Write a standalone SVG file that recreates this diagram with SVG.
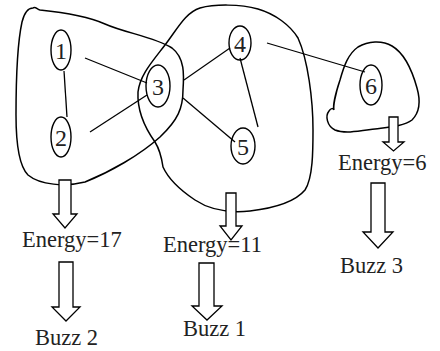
<svg xmlns="http://www.w3.org/2000/svg" width="440" height="351" viewBox="0 0 440 351">
<style>
.blob{fill:none;stroke:#000;stroke-width:1.5;stroke-linejoin:round}
.node ellipse{fill:none;stroke:#000;stroke-width:1.4}
.node text{font-family:'Liberation Serif','DejaVu Serif',serif;font-size:24px;text-anchor:middle;fill:#222}
.edge{stroke:#000;stroke-width:1.3;fill:none}
.arrow{fill:#fff;stroke:#000;stroke-width:1.3;stroke-linejoin:miter}
.lbl{font-family:'Liberation Serif','DejaVu Serif',serif;font-size:22.5px;fill:#222}
</style>
<rect width="440" height="351" fill="#fff"/>
<g id="clusters">
<path class="blob" d="M33,8 C35,6 37,9 40,10 C60,12 85,15 105,24 C125,33 155,37 172,48 C185,58 184,75 183,90 C183,108 178,120 160,137 C140,155 110,172 85,182 C65,187 40,185 28,175 C18,165 16,140 16,115 C16,85 17,45 22,22 C24,14 28,8 33,8 Z"/>
<path class="blob" d="M163,167 C168,178 180,190 195,200 C210,210 230,213 250,211 C275,208 295,202 305,190 C313,178 313,150 313,130 C313,100 308,60 298,38 C290,25 275,14 258,9 C240,4 215,4 200,8 C185,13 178,28 165,45 C152,62 140,75 138,92 C137,112 145,128 155,142 C160,150 162,160 163,167 Z"/>
<path class="blob" d="M334,110 C333,107 335,95 340,80 C344,66 348,54 358,47 C368,41 382,40 392,46 C404,53 412,70 417,88 C421,102 420,112 412,120 C404,126 390,127 375,129 C360,131 345,134 335,130 C327,126 325,116 329,111 C331,108 333,108 334,110"/>
</g>
<g id="connectors">
<line class="edge" x1="64" y1="71" x2="67" y2="117"/>
<line class="edge" x1="85" y1="58" x2="147" y2="83"/>
<line class="edge" x1="90" y1="132" x2="147" y2="95"/>
<line class="edge" x1="184" y1="80" x2="230" y2="48"/>
<line class="edge" x1="183" y1="98" x2="235" y2="142"/>
<line class="edge" x1="240" y1="58" x2="258" y2="127"/>
<line class="edge" x1="267" y1="43" x2="365" y2="72"/>
</g>
<g id="node1" class="node"><ellipse cx="61" cy="50" rx="10" ry="20"/><text x="61" y="59">1</text></g>
<g id="node2" class="node"><ellipse cx="61" cy="137" rx="10" ry="20"/><text x="61" y="146">2</text></g>
<g id="node3" class="node"><ellipse cx="158" cy="86" rx="12" ry="21"/><text x="158" y="95">3</text></g>
<g id="node4" class="node"><ellipse cx="240" cy="43" rx="11" ry="17"/><text x="240" y="52">4</text></g>
<g id="node5" class="node"><ellipse cx="243" cy="146" rx="12" ry="18"/><text x="243" y="155">5</text></g>
<g id="node6" class="node"><ellipse cx="371" cy="85" rx="11" ry="20"/><text x="371" y="94">6</text></g>
<g id="arrows">
<path class="arrow" d="M59,180 H71 V214 H77 L65,228 L53,214 H59 Z"/>
<path class="arrow" d="M59,262 H73 V307 H80 L66,321 L52,307 H59 Z"/>
<path class="arrow" d="M226,193 H236 V226 H242 L231,240 L220,226 H226 Z"/>
<path class="arrow" d="M199,263 H214 V306 H222 L207,320 L192,306 H199 Z"/>
<path class="arrow" d="M389,117 H398 V142 H404 L393.5,151 L383,142 H389 Z"/>
<path class="arrow" d="M371,183 H385 V232 H393 L378,248 L363,232 H371 Z"/>
</g>
<g id="labels">
<text class="lbl" x="22" y="247">Energy=17</text>
<text class="lbl" x="163" y="252">Energy=11</text>
<text class="lbl" x="338" y="170">Energy=6</text>
<text class="lbl" x="35" y="345">Buzz 2</text>
<text class="lbl" x="183" y="336">Buzz 1</text>
<text class="lbl" x="340" y="273">Buzz 3</text>
</g>
</svg>
